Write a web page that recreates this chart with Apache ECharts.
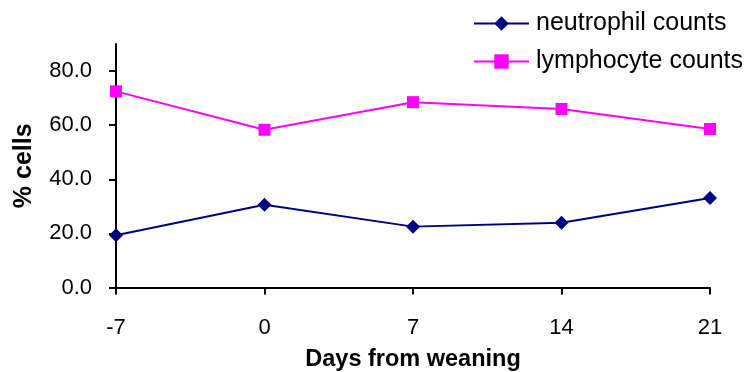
<!DOCTYPE html>
<html>
<head>
<meta charset="utf-8">
<script src="https://cdn.jsdelivr.net/npm/echarts@6/dist/echarts.min.js"></script>
<style>
html, body { margin: 0; padding: 0; background: #fff; }
#chart { width: 748px; height: 372px; }
</style>
</head>
<body>
<div id="chart"></div>
<script>
// Days relative to weaning
const days = ['-7', '0', '7', '14', '21'];
// Percentage of cells in each population
const neutrophil = [19.3, 30.6, 22.5, 23.9, 33.1];
const lymphocyte = [72.5, 58.3, 68.5, 66.0, 58.6];
// Labelled y ticks
const yTicks = [0, 20, 40, 60, 80];

const font = '"Liberation Sans", Arial, sans-serif';
const chart = echarts.init(document.getElementById('chart'), null, { renderer: 'canvas' });

chart.setOption({
  animation: false,
  backgroundColor: '#ffffff',
  grid: {
    left: 116, right: 38, top: 44, bottom: 84.5,
    containLabel: false,
    outerBoundsMode: 'none'
  },
  legend: {
    orient: 'vertical',
    left: 468,
    top: 6,
    itemWidth: 55,
    itemHeight: 18,
    itemGap: 13,
    textStyle: { fontFamily: font, fontSize: 25, color: '#000', padding: [0, 0, 0, 2] },
    data: ['neutrophil counts', 'lymphocyte counts']
  },
  xAxis: {
    type: 'category',
    data: days,
    boundaryGap: false,
    name: 'Days from weaning',
    nameLocation: 'middle',
    nameGap: 60,
    nameTextStyle: { fontFamily: font, fontSize: 23.5, fontWeight: 'bold', color: '#000' },
    axisLine: { lineStyle: { color: '#000', width: 2 } },
    axisTick: { show: true, length: 7, alignWithLabel: true, lineStyle: { color: '#000', width: 2 } },
    axisLabel: { margin: 29, fontFamily: font, fontSize: 22, color: '#000' },
    splitLine: { show: false }
  },
  yAxis: {
    type: 'value',
    min: 0,
    max: 90,
    interval: 20,
    name: '% cells',
    nameLocation: 'middle',
    nameGap: 79,
    nameTextStyle: { fontFamily: font, fontSize: 25, fontWeight: 'bold', color: '#000' },
    axisLine: { show: true, lineStyle: { color: '#000', width: 2 } },
    axisTick: { show: true, length: 7, customValues: yTicks, lineStyle: { color: '#000', width: 2 } },
    axisLabel: {
      margin: 24, fontFamily: font, fontSize: 22, color: '#000',
      customValues: yTicks,
      formatter: v => v.toFixed(1)
    },
    splitLine: { show: false }
  },
  series: [
    {
      name: 'neutrophil counts',
      type: 'line',
      data: neutrophil,
      symbol: 'diamond',
      symbolSize: 14,
      lineStyle: { color: '#000080', width: 2 },
      itemStyle: { color: '#000080' }
    },
    {
      name: 'lymphocyte counts',
      type: 'line',
      data: lymphocyte,
      symbol: 'rect',
      symbolSize: 12,
      lineStyle: { color: '#FF00FF', width: 2 },
      itemStyle: { color: '#FF00FF' }
    }
  ]
});
</script>
</body>
</html>
